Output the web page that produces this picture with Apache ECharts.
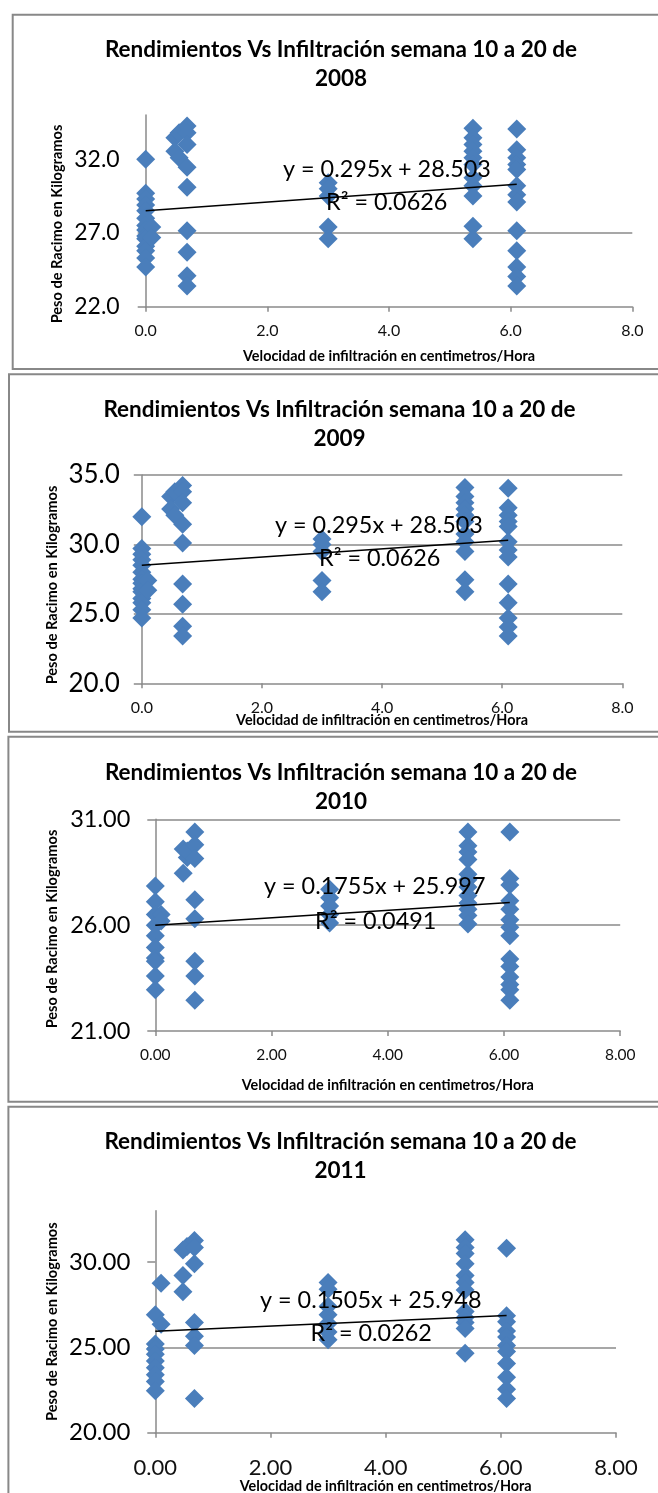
<!DOCTYPE html>
<html>
<head>
    <meta charset="utf-8">
    <script src="https://cdn.jsdelivr.net/npm/echarts@6/dist/echarts.min.js"></script>
    <style>
        body { margin: 0; background: #fff; }
        #main { width: 658px; height: 1493px; }
    </style>
</head>
<body>
    <div id="main"></div>
    <script type="text/javascript">
        // valores: [infiltracion cm/h, peso racimo kg]
        var pts2008 = [
            [0, 32.0], [0, 29.7], [0, 29.3], [0, 28.9], [0, 28.5], [0, 28.0], [0, 27.5], [0, 27.2],
            [0, 26.8], [0, 26.6], [0, 26.1], [0, 25.8], [0, 25.3], [0, 24.7], [0.1, 27.4], [0.1, 26.7],
            [0.48, 33.45], [0.48, 32.55], [0.55, 33.8], [0.55, 32.1],
            [0.68, 34.25], [0.68, 33.8], [0.68, 33.0], [0.68, 31.45], [0.68, 30.1], [0.68, 27.15],
            [0.68, 25.7], [0.68, 24.1], [0.68, 23.4],
            [3.0, 30.4], [3.0, 30.0], [3.0, 29.5], [3.0, 27.4], [3.0, 26.6],
            [5.38, 34.1], [5.38, 33.45], [5.38, 33.0], [5.38, 32.55], [5.38, 32.1], [5.38, 31.65],
            [5.38, 30.75], [5.38, 30.2], [5.38, 29.5], [5.38, 27.45], [5.38, 26.6],
            [6.1, 34.05], [6.1, 32.65], [6.1, 32.1], [6.1, 31.65], [6.1, 31.3], [6.1, 30.2], [6.1, 29.6],
            [6.1, 29.1], [6.1, 27.15], [6.1, 25.8], [6.1, 24.7], [6.1, 24.05], [6.1, 23.4]
        ];
        // 2009 muestra los mismos puntos que 2008 (misma ecuacion)
        var pts2009 = pts2008.slice();
        var pts2010 = [
            [0, 27.85], [0, 27.1], [0, 26.5], [0, 26.0], [0, 25.5], [0, 24.95], [0, 24.45], [0, 24.3],
            [0, 23.6], [0, 22.95], [0.1, 26.5], [0.1, 26.2],
            [0.48, 29.6], [0.48, 28.45], [0.55, 29.2], [0.55, 29.5],
            [0.68, 30.4], [0.68, 29.8], [0.68, 29.15], [0.68, 27.2], [0.68, 26.3], [0.68, 24.3],
            [0.68, 23.6], [0.68, 22.45],
            [3.0, 27.7], [3.0, 27.3], [3.0, 26.9], [3.0, 26.5], [3.0, 26.1],
            [5.38, 30.4], [5.38, 29.75], [5.38, 29.45], [5.38, 29.1], [5.38, 28.4], [5.38, 28.15],
            [5.38, 27.8], [5.38, 27.4], [5.38, 27.05], [5.38, 26.75], [5.38, 26.45], [5.38, 26.05],
            [6.1, 30.4], [6.1, 28.2], [6.1, 27.9], [6.1, 27.15], [6.1, 26.75], [6.1, 26.25], [6.1, 25.9],
            [6.1, 25.5], [6.1, 24.4], [6.1, 24.05], [6.1, 23.55], [6.1, 23.2], [6.1, 22.95], [6.1, 22.45]
        ];
        var pts2011 = [
            [0, 26.9], [0, 25.2], [0, 24.9], [0, 24.6], [0, 24.2], [0, 23.8], [0, 23.4], [0, 23.0],
            [0, 22.45], [0.1, 28.75], [0.1, 26.35],
            [0.48, 30.7], [0.48, 29.2], [0.48, 28.25], [0.55, 30.9],
            [0.68, 31.25], [0.68, 30.85], [0.68, 29.9], [0.68, 26.45], [0.68, 25.65], [0.68, 25.1], [0.68, 22.0],
            [3.0, 28.8], [3.0, 28.4], [3.0, 27.4], [3.0, 26.9], [3.0, 26.4], [3.0, 25.9], [3.0, 25.45],
            [5.38, 31.3], [5.38, 30.85], [5.38, 30.5], [5.38, 29.9], [5.38, 29.2], [5.38, 28.8],
            [5.38, 28.35], [5.38, 27.1], [5.38, 26.75], [5.38, 26.45], [5.38, 26.1], [5.38, 24.65],
            [6.1, 30.8], [6.1, 26.85], [6.1, 26.5], [6.1, 25.95], [6.1, 25.6], [6.1, 25.1], [6.1, 24.75],
            [6.1, 24.05], [6.1, 23.25], [6.1, 22.55], [6.1, 22.0]
        ];

        var years = ['2008', '2009', '2010', '2011'];
        var slopes = [0.295, 0.295, 0.1755, 0.1505];
        var intercepts = [28.503, 28.503, 25.997, 25.948];
        var r2 = ['0.0626', '0.0626', '0.0491', '0.0262'];
        var yMins = [22, 20, 21, 20];
        var yMaxs = [35, 35, 31, 33];
        var yTicks = [[22, 27, 32], [20, 25, 30, 35], [21, 26, 31], [20, 25, 30]];
        var xTicks = [0, 2, 4, 6, 8];
        var decimals = [1, 1, 2, 2];
        var allPts = [pts2008, pts2009, pts2010, pts2011];

        // posiciones de cada recuadro (px de la pagina)
        var layout = [
            { frame: [12.7, 14.7, 700, 369], g: [145.7, 115, 632.3, 306.7], yFont: 23, yMargin: 26, xFont: 16, xMargin: 16,
              titleX: 341, titleY: 64.5, xNameY: 356, yNameX: 57, yNameY: 224, eq: [283, 169], rr: [326, 202] },
            { frame: [9, 374.3, 700, 731.7], g: [141.8, 475, 622.3, 683.3], yFont: 26, yMargin: 22, xFont: 16, xMargin: 17,
              titleX: 339.5, titleY: 424, xNameY: 720, yNameX: 52.5, yNameY: 585, eq: [275, 525], rr: [319, 558] },
            { frame: [8.4, 736.7, 700, 1101.7], g: [155.3, 819.3, 620.2, 1031], yFont: 23.5, yMargin: 25, xFont: 15.5, xMargin: 16,
              titleX: 341, titleY: 787.3, xNameY: 1085, yNameX: 52.5, yNameY: 929, eq: [264, 886.7], rr: [315, 921.7] },
            { frame: [8.4, 1106.7, 700, 1560], g: [155.3, 1210.7, 616, 1432.7], yFont: 24, yMargin: 25, xFont: 22, xMargin: 24,
              titleX: 340.5, titleY: 1155.8, xNameY: 1486.7, yNameX: 52.5, yNameY: 1321.7, eq: [260, 1300], rr: [310.5, 1333.3] }
        ];

        var FONT = 'Lato';
        var AXIS = '#8a8a8a';
        var BLUE = '#4a7ebb';

        var chart = echarts.init(document.getElementById('main'), null, { renderer: 'canvas' });

        var grids = [], xAxes = [], yAxes = [], series = [], graphics = [];

        for (var i = 0; i < 4; i++) {
            var L = layout[i];
            var dec = decimals[i];
            grids.push({
                left: L.g[0], top: L.g[1],
                width: L.g[2] - L.g[0], height: L.g[3] - L.g[1],
                containLabel: false, outerBoundsMode: 'none'
            });
            xAxes.push({
                type: 'value', gridIndex: i, min: 0, max: 8, interval: 2,
                axisLine: { show: true, onZero: false, lineStyle: { color: AXIS, width: 1.5 } },
                axisTick: { show: true, length: 5, customValues: xTicks, lineStyle: { color: AXIS, width: 1.5 } },
                axisLabel: {
                    fontFamily: FONT, fontSize: L.xFont, color: '#111', margin: L.xMargin,
                    customValues: xTicks,
                    formatter: (function (d) { return function (v) { return v.toFixed(d); }; })(dec)
                },
                splitLine: { show: false }
            });
            yAxes.push({
                type: 'value', gridIndex: i, min: yMins[i], max: yMaxs[i], interval: 5,
                axisLine: { show: true, onZero: false, lineStyle: { color: AXIS, width: 1.5 } },
                axisTick: { show: true, length: 8, customValues: yTicks[i], lineStyle: { color: AXIS, width: 1.5 } },
                axisLabel: {
                    fontFamily: FONT, fontSize: L.yFont, color: '#000', margin: L.yMargin,
                    customValues: yTicks[i],
                    formatter: (function (d) { return function (v) { return v.toFixed(d); }; })(dec)
                },
                splitLine: { show: true, showMinLine: false, showMaxLine: yTicks[i].indexOf(yMaxs[i]) >= 0,
                    lineStyle: { color: AXIS, width: 1.5 } }
            });

            var pts = allPts[i];
            series.push({
                type: 'scatter', xAxisIndex: i, yAxisIndex: i,
                symbol: 'diamond', symbolSize: 19,
                itemStyle: { color: BLUE, opacity: 1 },
                data: pts, z: 2, silent: true
            });
            // linea de tendencia lineal hasta el mayor x
            var xEnd = Math.max.apply(null, pts.map(function (p) { return p[0]; }));
            series.push({
                type: 'line', xAxisIndex: i, yAxisIndex: i,
                symbol: 'none', silent: true, z: 3,
                lineStyle: { color: '#000', width: 1.5 },
                data: [[0, intercepts[i]], [xEnd, intercepts[i] + slopes[i] * xEnd]]
            });

            graphics.push({
                type: 'rect', silent: true, z: 1,
                shape: { x: L.frame[0], y: L.frame[1], width: L.frame[2] - L.frame[0], height: L.frame[3] - L.frame[1] },
                style: { fill: null, stroke: '#888', lineWidth: 2 }
            });
            graphics.push({
                type: 'text', x: L.titleX, y: L.titleY, z: 10,
                style: {
                    text: 'Rendimientos Vs Infiltración semana 10 a 20 de\n' + years[i],
                    font: 'bold 22.5px ' + FONT, lineHeight: 29,
                    fill: '#000', align: 'center', verticalAlign: 'middle'
                }
            });
            graphics.push({
                type: 'text', x: (L.g[0] + L.g[2]) / 2, y: L.xNameY, z: 10,
                style: {
                    text: 'Velocidad de infiltración en centimetros/Hora',
                    font: 'bold 14.4px ' + FONT, fill: '#000', align: 'center', verticalAlign: 'middle'
                }
            });
            graphics.push({
                type: 'text', x: L.yNameX, y: L.yNameY, rotation: Math.PI / 2, z: 10,
                style: {
                    text: 'Peso de Racimo en Kilogramos',
                    font: 'bold 14.6px ' + FONT, fill: '#000', align: 'center', verticalAlign: 'middle'
                }
            });
            graphics.push({
                type: 'text', x: L.eq[0], y: L.eq[1], z: 10,
                style: {
                    text: 'y = ' + slopes[i] + 'x + ' + intercepts[i],
                    font: '23.4px ' + FONT, fill: '#000', align: 'left', verticalAlign: 'middle'
                }
            });
            graphics.push({
                type: 'text', x: L.rr[0], y: L.rr[1], z: 10,
                style: {
                    text: 'R² = ' + r2[i],
                    font: '23.4px ' + FONT, fill: '#000', align: 'left', verticalAlign: 'middle'
                }
            });
        }

        var option = {
            animation: false,
            backgroundColor: '#fff',
            grid: grids,
            xAxis: xAxes,
            yAxis: yAxes,
            series: series,
            graphic: graphics
        };
        chart.setOption(option);
    </script>
</body>
</html>
